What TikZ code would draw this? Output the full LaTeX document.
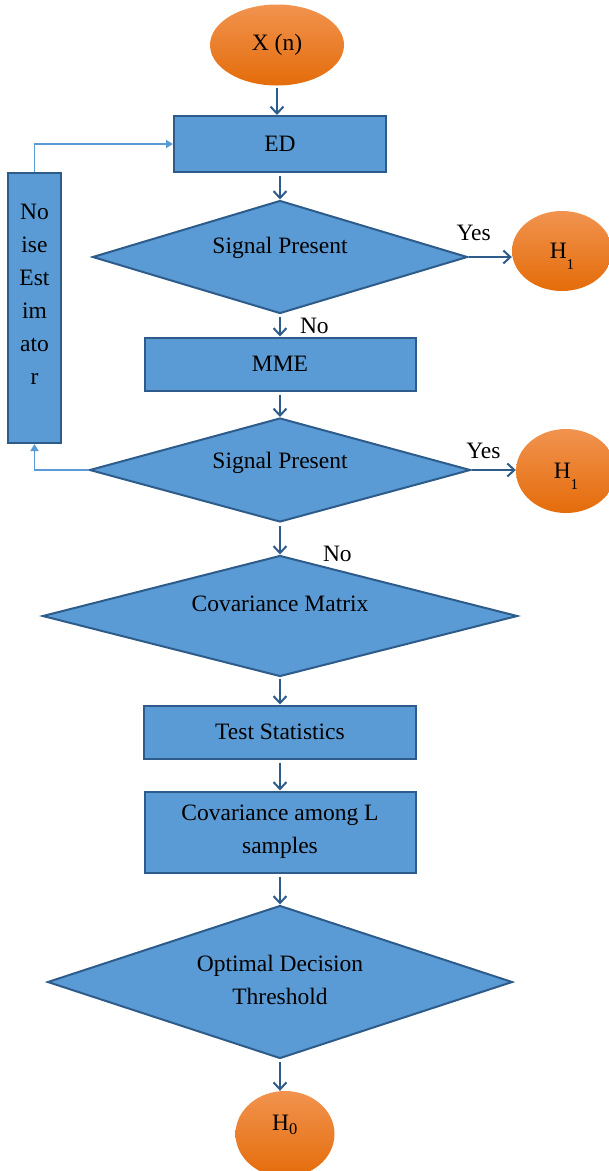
\documentclass[tikz,border=0pt]{standalone}
\usepackage{fontspec}
\setmainfont{Liberation Serif}
\usetikzlibrary{shapes.geometric,arrows.meta}

\definecolor{boxblue}{HTML}{5B9BD5}
\definecolor{edgeblue}{HTML}{2E5C8A}
\definecolor{loopblue}{HTML}{5B9BD5}
\definecolor{orangetop}{HTML}{F1934F}
\definecolor{orangebot}{HTML}{E46C0A}

\begin{document}
\begin{tikzpicture}[x=1pt, y=-1pt,
    % --- Styles ---
    every node/.style={font=\fontsize{23.5}{33}\selectfont},
    process box/.style={rectangle, draw=edgeblue, fill=boxblue, line width=2pt, inner sep=0pt, align=center},
    % Diamonds carry their text as a centre label so it can be nudged up
    decision/.style={diamond, draw=edgeblue, fill=boxblue, line width=2pt, inner sep=0pt},
    terminal/.style={ellipse, inner sep=0pt, draw=none, top color=orangetop, bottom color=orangebot},
    flow arrow/.style={draw=edgeblue, line width=2pt, -{Straight Barb[length=7pt,width=13pt]}},
    loop arrow/.style={draw=loopblue, line width=1.8pt, -{Triangle[length=7pt,width=8pt]}},
    branch label/.style={inner sep=0pt}
]

%================CONFIGURATION================
% main column (pt, y grows downwards)
\def\colx{280}
\def\lowone{\smash{\raisebox{-11pt}{\fontsize{15}{15}\selectfont 1}}}
%=============================================

\useasboundingbox (0,0) rectangle (609,1171);
\clip (0,0) rectangle (609,1171);

% --- Start ---
\node[terminal, minimum width=134pt, minimum height=81pt] (xn) at (277,45) {X (n)};

% --- Energy detection stage ---
\node[process box, minimum width=212pt, minimum height=56pt] (ed) at (\colx,144) {ED};
\node[decision, minimum width=375pt, minimum height=113pt,
      label={[yshift=9pt]center:Signal Present}] (sp1) at (\colx,257) {};
\node[terminal, minimum width=100pt, minimum height=80pt] (h1a) at (562,251) {H\lowone};

% --- MME stage ---
\node[process box, minimum width=271pt, minimum height=53pt] (mme) at (\colx,364) {MME};
\node[decision, minimum width=381pt, minimum height=104pt,
      label={[yshift=7pt]center:Signal Present}] (sp2) at (\colx,470) {};
\node[terminal, minimum width=100pt, minimum height=84pt] (h1b) at (566,471) {H\lowone};

% --- Noise estimator (feedback) ---
\node[process box, minimum width=53pt, minimum height=270pt,
      label={[align=center, yshift=14pt]center:No\\ise\\Est\\im\\ato\\r}] (noise) at (34.5,308) {};

% --- Covariance based detection ---
\node[decision, minimum width=475pt, minimum height=121pt,
      label={[yshift=12pt]center:Covariance Matrix}] (cov) at (\colx,616) {};
\node[process box, minimum width=272pt, minimum height=53pt] (test) at (\colx,732) {Test Statistics};
\node[process box, minimum width=271pt, minimum height=81pt] (covl) at (\colx,832) {Covariance among L\\samples};
\node[decision, minimum width=465pt, minimum height=153pt,
      label={[align=center, yshift=2pt]center:Optimal Decision\\Threshold}] (opt) at (\colx,982) {};
\node[terminal, minimum width=99pt, minimum height=86pt,
      label={[yshift=9pt]center:H\textsubscript{0}}] (h0) at (285,1134) {};

% --- Connectors ---
\draw[flow arrow, shorten <=2pt] (xn.south) -- (xn.south |- ed.north);
\draw[flow arrow, shorten <=3pt] (ed.south) -- (sp1.north);
\draw[flow arrow] (sp1.east) -- node[branch label, pos=0.12, above=15pt] (yes1) {Yes} (sp1.east -| h1a.west);
\draw[flow arrow, shorten <=2pt] (sp1.south) -- node[branch label, pos=0.5, right=19pt] (no1) {No} (mme.north);
\draw[flow arrow, shorten <=3pt] (mme.south) -- (sp2.north);
\draw[flow arrow] (sp2.east) -- node[branch label, pos=0.27, above=10pt] (yes2) {Yes} (sp2.east -| h1b.west);
\draw[flow arrow, shorten <=3pt] (sp2.south) -- node[branch label, pos=0.98, right=42pt] (no2) {No} (cov.north);
\draw[flow arrow, shorten <=1pt] (cov.south) -- (test.north);
\draw[flow arrow, shorten <=3pt] (test.south) -- (covl.north);
\draw[flow arrow, shorten <=3pt] (covl.south) -- (opt.north);
\draw[flow arrow, shorten <=2pt] (opt.south) -- (opt.south |- h0.north);

% feedback through the noise estimator
\draw[loop arrow] (sp2.west) -| (noise.south);
\draw[loop arrow] (noise.north) |- (ed.west);

\end{tikzpicture}
\end{document}
